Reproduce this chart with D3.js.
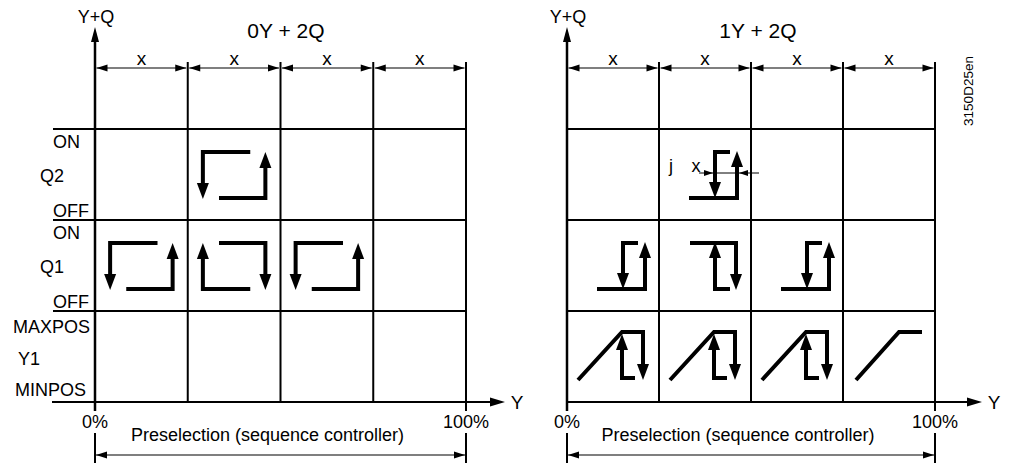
<!DOCTYPE html>
<html><head><meta charset="utf-8">
<script src="https://cdn.jsdelivr.net/npm/d3@7"></script>
<style>html,body{margin:0;padding:0;background:#fff}svg{display:block}text{font-family:"Liberation Sans",Arial,sans-serif;fill:#000}</style>
</head><body>
<script>
// ---- data ----
const panelTitles = ["0Y + 2Q", "1Y + 2Q"];
const cells = [0, 1, 2, 3];
const cellLabels = ["x", "x", "x", "x"];
const rowNames = ["Q2", "Q1", "Y1"];
const rowTopLabels = ["ON", "ON", "MAXPOS"];
const rowBottomLabels = ["OFF", "OFF", "MINPOS"];
const axisTickLabels = ["0%", "100%"];
const axisTitle = "Preselection (sequence controller)";
const leftQ2 = [null, "cycleA", null, null];
const leftQ1 = ["cycleA", "cycleB", "cycleA", null];
const leftY1 = [null, null, null, null];
const rightQ2 = [null, "hystA", null, null];
const rightQ1 = ["hystA", "hystB", "hystA", null];
const rightY1 = ["rampHyst", "rampHyst", "rampHyst", "ramp"];
const docId = "3150D25en";

// ---- glyph templates (cell-local units, cell = 92 x 91) ----
const glyphs = {
  cycleA: [{p: [[62,23],[15,23],[15,70]], a: true}, {p: [[31,69],[77,69],[77,23]], a: true}],
  cycleB: [{p: [[62,69],[15,69],[15,23]], a: true}, {p: [[31,23],[77,23],[77,70]], a: true}],
  hystA:  [{p: [[71,23],[56,23],[56,69]], a: true}, {p: [[30,69],[78,69],[78,22]], a: true}],
  hystB:  [{p: [[71,69],[56,69],[56,22]], a: true}, {p: [[31,23],[77,23],[77,70]], a: true}],
  rampHyst: [{p: [[11,69],[55,21],[76,21],[76,69]], a: true}, {p: [[68,67],[55,67],[55,23]], a: true}],
  ramp: [{p: [[13,69],[56,21],[79,21]], a: false}]
};

const W = 1011, H = 463;
const svg = d3.select("body").append("svg").attr("width", W).attr("height", H);
svg.append("rect").attr("width", W).attr("height", H).attr("fill", "#fff");

const rowScale = d3.scaleBand().domain(rowNames).range([129, 402]);
const local = d3.scaleLinear().domain([0, 92]);
const localY = d3.scaleLinear().domain([0, 91]);

function arrowHead(g, tip, dir, L, hw) {
  const [dx, dy] = dir; const nx = -dy, ny = dx;
  const bx = tip[0] - dx * L, by = tip[1] - dy * L;
  g.append("path").attr("d", `M${tip[0]},${tip[1]}L${bx + nx*hw},${by + ny*hw}L${bx - nx*hw},${by - ny*hw}Z`).attr("fill", "#000");
}
function thinArrowLine(g, x1, y1, x2, y2) {
  g.append("line").attr("x1", x1).attr("y1", y1).attr("x2", x2).attr("y2", y2).attr("stroke", "#000").attr("stroke-width", 1.2);
  const len = Math.hypot(x2 - x1, y2 - y1), d = [(x2 - x1)/len, (y2 - y1)/len];
  arrowHead(g, [x2, y2], d, 11, 3.5);
  arrowHead(g, [x1, y1], [-d[0], -d[1]], 11, 3.5);
}

const panels = [
  {x0: 95, x1: 466, hStart: 53, axStart: 52, axEnd: 505, labels: true, rows: [leftQ2, leftQ1, leftY1]},
  {x0: 567, x1: 935, hStart: 567, axStart: 567, axEnd: 982, labels: false, rows: [rightQ2, rightQ1, rightY1]}
];

panels.forEach((P, pi) => {
  const g = svg.append("g");
  const xs = d3.scaleBand().domain(cells).range([P.x0, P.x1]);
  const mid = (P.x0 + P.x1) / 2;

  g.append("text").attr("x", P.x0 + 191).attr("y", 38).attr("text-anchor", "middle").attr("font-size", 21).text(panelTitles[pi]);
  g.append("text").attr("x", P.x0 + 1).attr("y", 23).attr("text-anchor", "middle").attr("font-size", 18).text("Y+Q");

  rowNames.forEach(r => {
    g.append("line").attr("x1", P.hStart).attr("x2", P.x1).attr("y1", rowScale(r)).attr("y2", rowScale(r)).attr("stroke", "#000").attr("stroke-width", 2);
  });
  cells.forEach(c => {
    const x = xs(c) + xs.bandwidth();
    g.append("line").attr("x1", x).attr("x2", x).attr("y1", 62).attr("y2", c === 3 ? 411 : 402).attr("stroke", "#000").attr("stroke-width", 2);
  });
  g.append("line").attr("x1", P.x0).attr("x2", P.x0).attr("y1", 411).attr("y2", 40).attr("stroke", "#000").attr("stroke-width", 2.5);
  arrowHead(g, [P.x0, 27], [0, -1], 15, 4);
  g.append("line").attr("x1", P.axStart).attr("x2", P.axEnd - 12).attr("y1", 402).attr("y2", 402).attr("stroke", "#000").attr("stroke-width", 2);
  arrowHead(g, [P.axEnd, 402], [1, 0], 15, 4.5);
  g.append("text").attr("x", P.axEnd + 12).attr("y", 409).attr("text-anchor", "middle").attr("font-size", 19).text("Y");

  cells.forEach(c => {
    thinArrowLine(g, xs(c) + 1.5, 68, xs(c) + xs.bandwidth() - 1.5, 68);
    g.append("text").attr("x", xs(c) + xs.bandwidth()/2).attr("y", 65).attr("text-anchor", "middle").attr("font-size", 19).text(cellLabels[c]);
  });

  P.rows.forEach((row, ri) => {
    const top = rowScale(rowNames[ri]);
    row.forEach((gname, c) => {
      if (!gname) return;
      const sx = local.copy().range([xs(c), xs(c) + xs.bandwidth()]);
      const sy = localY.copy().range([top, top + rowScale.bandwidth()]);
      glyphs[gname].forEach(seg => {
        const pts = seg.p.map(q => [sx(q[0]), sy(q[1])]);
        const n = pts.length;
        const tip = pts[n - 1], prev = pts[n - 2];
        const len = Math.hypot(tip[0] - prev[0], tip[1] - prev[1]);
        const d = [(tip[0] - prev[0]) / len, (tip[1] - prev[1]) / len];
        const AL = 16;
        const linePts = pts.slice();
        if (seg.a) linePts[n - 1] = [tip[0] - d[0] * (AL - 2), tip[1] - d[1] * (AL - 2)];
        g.append("path").attr("d", d3.line()(linePts)).attr("fill", "none").attr("stroke", "#000").attr("stroke-width", 4).attr("stroke-linejoin", "miter").attr("stroke-linecap", "butt");
        if (seg.a) arrowHead(g, tip, d, AL, 6);
      });
      if (pi === 1 && ri === 0) {
        const yd = top + 44;
        const xl = sx(56) - 2, xr = sx(78) + 2;
        g.append("line").attr("x1", xl - 14).attr("x2", xr + 20).attr("y1", yd).attr("y2", yd).attr("stroke", "#000").attr("stroke-width", 1);
        arrowHead(g, [xl, yd], [1, 0], 9, 3);
        arrowHead(g, [xr, yd], [-1, 0], 9, 3);
        g.append("text").attr("x", xs(c) + 12).attr("y", yd - 1).attr("text-anchor", "middle").attr("font-size", 18).text("j");
        g.append("text").attr("x", xl - 17).attr("y", yd - 1).attr("text-anchor", "middle").attr("font-size", 18).text("x");
      }
    });
  });

  if (P.labels) {
    rowNames.forEach((r, ri) => {
      const top = rowScale(r), bot = top + rowScale.bandwidth();
      const isY = ri === 2;
      g.append("text").attr("x", isY ? 13 : 53).attr("y", top + (isY ? 22 : 19)).attr("font-size", 18).text(rowTopLabels[ri]);
      g.append("text").attr("x", isY ? 18 : 40).attr("y", top + (isY ? 54 : 53)).attr("font-size", 18).text(r);
      g.append("text").attr("x", isY ? 15 : 53).attr("y", bot - (isY ? 6 : 3)).attr("font-size", 18).text(rowBottomLabels[ri]);
    });
  }

  const bx = d3.scaleLinear().domain([0, 1]).range([P.x0, P.x1]);
  axisTickLabels.forEach((t, i) => {
    g.append("text").attr("x", bx(i)).attr("y", 428).attr("text-anchor", "middle").attr("font-size", 18).text(t);
    g.append("line").attr("x1", bx(i)).attr("x2", bx(i)).attr("y1", 433).attr("y2", 463).attr("stroke", "#000").attr("stroke-width", 2);
  });
  thinArrowLine(g, bx(0) + 1, 455, bx(1) - 1, 455);
  g.append("text").attr("x", mid - 13).attr("y", 441).attr("text-anchor", "middle").attr("font-size", 18).text(axisTitle);
});

svg.append("text").attr("transform", "translate(973,91) rotate(-90)").attr("text-anchor", "middle").attr("font-size", 13.5).text(docId);
</script>
</body></html>
